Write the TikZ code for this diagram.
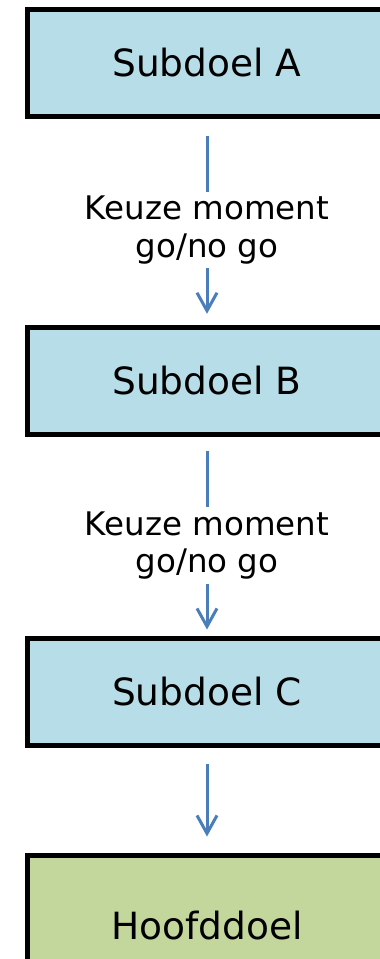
\documentclass[tikz,border=0pt]{standalone}
\usepackage{fontspec}
\setmainfont{DejaVu Sans}
\usetikzlibrary{arrows.meta}
\definecolor{subblue}{HTML}{B7DDE8}
\definecolor{goalgreen}{HTML}{C3D69B}
\definecolor{linkblue}{HTML}{4A7EBB}
\tikzset{
  doelbox/.style={draw=black,line width=5pt,minimum width=359pt,minimum height=107pt,inner sep=0pt,font=\fontsize{37.5}{45}\selectfont},
  keuze/.style={align=center,inner sep=4pt,font=\fontsize{32.5}{37.5}\selectfont},
  link/.style={draw=linkblue,line width=3pt},
  tip/.style={-{Straight Barb[length=18pt,width=20pt]}}
}
\begin{document}
\begin{tikzpicture}[x=1pt,y=-1pt]
\useasboundingbox (0,0) rectangle (380,959);
\clip (0,0) rectangle (380,959);
\node[doelbox,fill=subblue] (subA) at (207,62.5) {Subdoel A};
\node[doelbox,fill=subblue] (subB) at (207,380.5) {Subdoel B};
\node[doelbox,fill=subblue] (subC) at (207,692) {Subdoel C};
\node[doelbox,fill=goalgreen,minimum height=140pt] (hoofd) at (207,925.5) {Hoofddoel};
\node[keuze] (keuzeA) at (207,230) {Keuze moment\\go/no go};
\node[keuze] (keuzeB) at (207,545.5) {Keuze moment\\go/no go};
\draw[link,shorten <=17pt] (subA) -- (keuzeA);
\draw[link,tip,shorten >=10.7pt] (keuzeA) -- (subB);
\draw[link,shorten <=14pt] (subB) -- (keuzeB);
\draw[link,tip,shorten >=6.5pt] (keuzeB) -- (subC);
\draw[link,tip,shorten <=15.5pt,shorten >=16.5pt] (subC) -- (hoofd);
\end{tikzpicture}
\end{document}
